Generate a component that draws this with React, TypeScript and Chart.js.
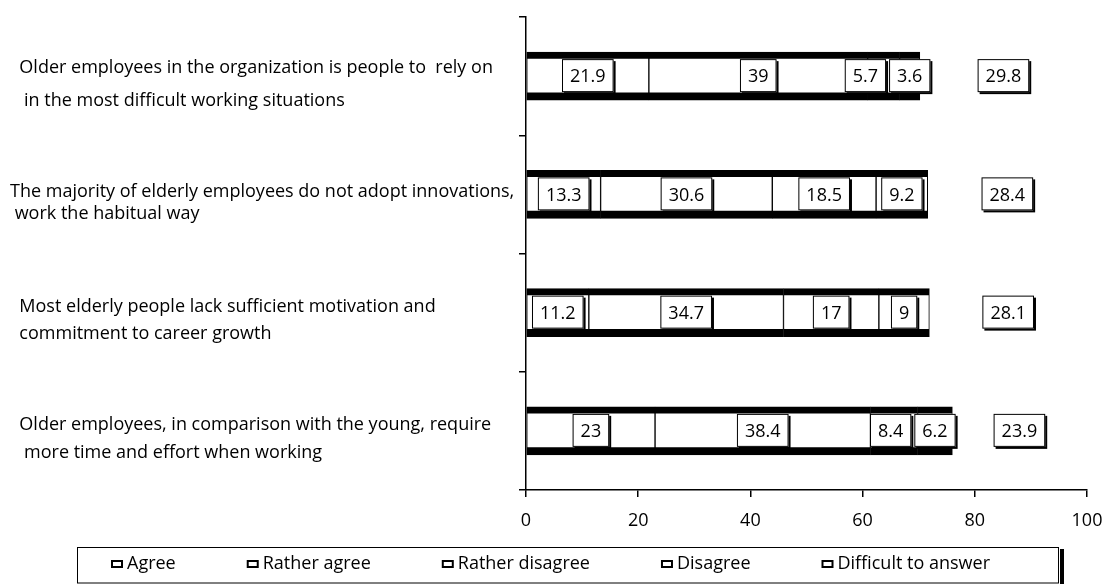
import React, { useEffect, useRef } from "react";
import { Chart, registerables } from "chart.js";

Chart.register(...registerables);

const categories: string[][] = [
  ["  Older employees in the organization is people to  rely on", "   in the most difficult working situations"],
  ["The majority of elderly employees do not adopt innovations,", " work the habitual way"],
  ["  Most elderly people lack sufficient motivation and", "  commitment to career growth"],
  ["  Older employees, in comparison with the young, require", "   more time and effort when working"],
];
const categoryLineGaps = [33, 22, 27, 28];

const seriesNames = ["Agree", "Rather agree", "Rather disagree", "Disagree", "Difficult to answer"];
const agree = [21.9, 13.3, 11.2, 23];
const ratherAgree = [39, 30.6, 34.7, 38.4];
const ratherDisagree = [5.7, 18.5, 17, 8.4];
const disagree = [3.6, 9.2, 9, 6.2];
const difficult = [29.8, 28.4, 28.1, 23.9];
const xTicks = [0, 20, 40, 60, 80, 100];

const FONT = "'Open Sans', sans-serif";

const labelBoxes = {
  id: "labelBoxes",
  afterDatasetsDraw(chart: any) {
    const ctx = chart.ctx;
    ctx.save();
    ctx.font = `18px ${FONT}`;
    ctx.textAlign = "center";
    ctx.textBaseline = "middle";
    const n = chart.data.labels.length;
    for (let j = 0; j < n; j++) {
      const boxes: any[] = [];
      chart.data.datasets.forEach((ds: any, i: number) => {
        const el = chart.getDatasetMeta(i).data[j];
        const { x, y, base, height } = el.getProps(["x", "y", "base", "height"], true);
        const text = String(ds.data[j]);
        const w = ctx.measureText(text).width + 16;
        const cx = (x + base) / 2;
        boxes.push({ left: cx - w / 2, w, top: y - height / 2 + 7, h: height - 15, y, text });
      });
      for (let k = boxes.length - 2; k >= 0; k--) {
        const over = boxes[k].left + boxes[k].w + 3 - boxes[k + 1].left;
        if (over > 0) boxes[k].left -= over;
      }
      boxes.forEach((b) => {
        ctx.fillStyle = "#000";
        ctx.fillRect(b.left + 2, b.top + 2, b.w, b.h);
        ctx.fillStyle = "#fff";
        ctx.fillRect(b.left, b.top, b.w, b.h);
        ctx.strokeStyle = "#000";
        ctx.lineWidth = 1;
        ctx.strokeRect(b.left + 0.5, b.top + 0.5, b.w - 1, b.h - 1);
        ctx.fillStyle = "#000";
        ctx.fillText(b.text, b.left + b.w / 2, b.y + 1);
      });
    }
    ctx.restore();
  },
};

const legendFrame = {
  id: "legendFrame",
  afterDraw(chart: any) {
    const ctx = chart.ctx;
    ctx.save();
    ctx.font = `18px ${FONT}`;
    const items = chart.data.datasets.map((ds: any) => ({
      text: ds.label,
      w: 16 + ctx.measureText(ds.label).width,
    }));
    const gap = 71;
    const total = items.reduce((s: number, it: any) => s + it.w, 0) + gap * (items.length - 1);
    let x = chart.width / 2 - 2 - total / 2;
    const cy = chart.height - 20;
    const fl = x - 34;
    const fr = x + total + 68;
    const ft = chart.height - 37;
    const fb = chart.height - 1.5;
    ctx.strokeStyle = "#000";
    ctx.lineWidth = 1;
    ctx.strokeRect(fl + 0.5, ft + 0.5, fr - fl, fb - ft);
    ctx.fillStyle = "#000";
    ctx.fillRect(fr + 2, ft + 2, 4, chart.height - ft);
    ctx.textAlign = "left";
    ctx.textBaseline = "middle";
    items.forEach((it: any) => {
      ctx.fillStyle = "#000";
      ctx.fillRect(x, cy - 4, 12, 8);
      ctx.fillStyle = "#fff";
      ctx.fillRect(x + 2, cy - 2, 8, 4);
      ctx.fillStyle = "#000";
      ctx.fillText(it.text, x + 16, cy);
      x += it.w + gap;
    });
    ctx.restore();
  },
};

export default function App() {
  const ref = useRef<HTMLCanvasElement>(null);
  useEffect(() => {
    if (!ref.current) return;
    Chart.defaults.font.family = FONT;
    Chart.defaults.color = "#000";
    const series = [agree, ratherAgree, ratherDisagree, disagree, difficult];
    const datasets = series.map((data, i) => {
      const last = i === series.length - 1;
      return {
        label: seriesNames[i],
        data,
        backgroundColor: last ? "rgba(0,0,0,0)" : "#ffffff",
        borderColor: "#000000",
        borderWidth: last ? 0 : { top: 7, bottom: 8, left: 1, right: 1 },
        borderSkipped: false,
        barThickness: 48,
      };
    });
    const chart = new Chart(ref.current, {
      type: "bar",
      data: { labels: categories, datasets },
      plugins: [labelBoxes, legendFrame],
      options: {
        animation: false,
        responsive: false,
        devicePixelRatio: 1,
        indexAxis: "y",
        layout: { padding: { left: 10, top: 17, right: 18, bottom: 0 } },
        plugins: { legend: { display: false }, tooltip: { enabled: false } },
        scales: {
          x: {
            stacked: true,
            min: 0,
            max: 100,
            afterBuildTicks: (scale: any) => {
              scale.ticks = xTicks.map((v) => ({ value: v }));
            },
            afterFit: (scale: any) => {
              scale.height = 94;
              scale.paddingLeft = 0;
              scale.paddingRight = 0;
            },
            ticks: { font: { size: 18, family: FONT }, color: "#000", padding: 13 },
            grid: { drawOnChartArea: false, drawTicks: true, tickLength: 7, color: "#000", lineWidth: 1.5 },
            border: { display: true, color: "#000", width: 1.5 },
          },
          y: {
            stacked: true,
            afterFit: (scale: any) => {
              scale.width = 516;
              scale.paddingTop = 0;
              scale.paddingBottom = 0;
            },
            ticks: {
              autoSkip: false,
              crossAlign: "far",
              labelOffset: 8,
              color: "#000",
              font: (c: any) => ({
                size: 18,
                family: FONT,
                lineHeight: (categoryLineGaps[c.index] ?? 27) / 18,
              }),
            },
            grid: { drawOnChartArea: false, drawTicks: true, tickLength: 7, color: "#000", lineWidth: 1.5 },
            border: { display: true, color: "#000", width: 1.5 },
          },
        },
      } as any,
    });
    return () => chart.destroy();
  }, []);
  return (
    <div style={{ position: "absolute", left: 0, top: 0, width: 1105, height: 584, background: "#fff" }}>
      <canvas ref={ref} width={1105} height={584} style={{ display: "block" }} />
    </div>
  );
}
